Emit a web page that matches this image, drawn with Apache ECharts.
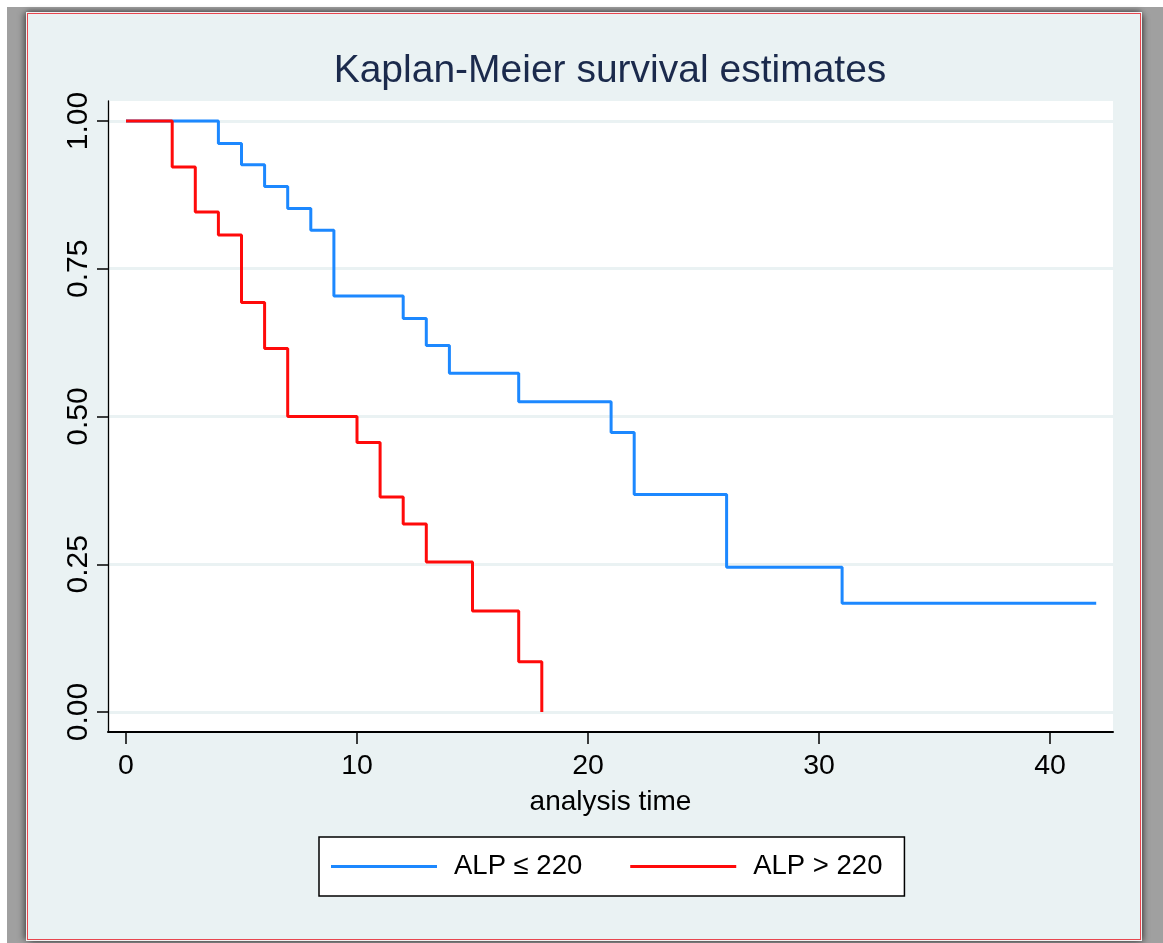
<!DOCTYPE html>
<html>
<head>
<meta charset="utf-8">
<title>Kaplan-Meier survival estimates</title>
<script src="https://cdn.jsdelivr.net/npm/echarts@6/dist/echarts.min.js"></script>
<style>
  html, body { margin: 0; padding: 0; background: #ffffff; }
  #stage { position: relative; width: 1163px; height: 943px; overflow: hidden; }
  #backdrop { position: absolute; left: 7px; top: 7px; width: 1156px; height: 936px; background: #a0a0a0; }
  #panel {
    position: absolute; left: 27px; top: 13px; width: 1114px; height: 927px;
    box-sizing: border-box; background: #eaf2f3; border: 1.5px solid #e8464e;
    box-shadow: 0 0 0 1px #f2f2f2, 3px 2px 6px rgba(0,0,0,0.45), -4px 0 6px rgba(0,0,0,0.35), 0 -3px 5px rgba(0,0,0,0.3);
  }
  #chart { position: absolute; left: 0; top: 0; width: 1163px; height: 943px; }
</style>
</head>
<body>
<div id="stage">
  <div id="backdrop"></div>
  <div id="panel"></div>
  <div id="chart"></div>
</div>
<script>
// Survival step functions: times at which the estimate changes, and the estimate from that time on
const lowTimes  = [0, 4, 5, 6, 7, 8, 9, 12, 13, 14, 17, 21, 22, 26, 31, 42];
const lowSurv   = [1.000, 0.962, 0.926, 0.889, 0.852, 0.815, 0.704, 0.666, 0.620, 0.573, 0.525, 0.473, 0.368, 0.245, 0.184, 0.184];
const highTimes = [0, 2, 3, 4, 5, 6, 7, 10, 11, 12, 13, 15, 17, 18];
const highSurv  = [1.000, 0.922, 0.846, 0.807, 0.693, 0.615, 0.500, 0.456, 0.364, 0.318, 0.254, 0.171, 0.085, 0.000];

const seriesNames = ['ALP \u2264 220', 'ALP > 220'];
const xTicks = [0, 10, 20, 30, 40];
const yTicks = [0, 0.25, 0.5, 0.75, 1];

const FONT = "'Liberation Sans', Arial, Helvetica, sans-serif";

function pairs(times, values) {
  return times.map((t, i) => [t, values[i]]);
}

const chart = echarts.init(document.getElementById('chart'), null, { renderer: 'canvas' });

chart.setOption({
  backgroundColor: 'transparent',
  animation: false,
  title: {
    text: 'Kaplan-Meier survival estimates',
    left: 610,
    top: 52,
    textAlign: 'center',
    padding: 0,
    textStyle: { fontFamily: FONT, fontSize: 39, fontWeight: 'normal', color: '#1b2a4c' }
  },
  grid: {
    left: 108, right: 50, top: 101, bottom: 211,
    show: true, backgroundColor: '#ffffff', borderWidth: 0
  },
  xAxis: {
    type: 'value',
    min: -0.779,
    max: 42.727,
    name: 'analysis time',
    nameLocation: 'middle',
    nameGap: 56,
    nameTextStyle: { fontFamily: FONT, fontSize: 28, color: '#000' },
    axisLine: { show: true, onZero: false, lineStyle: { color: '#000', width: 2 } },
    axisTick: { show: true, customValues: xTicks, length: 12, lineStyle: { color: '#000', width: 1.5 } },
    axisLabel: { customValues: xTicks, fontFamily: FONT, fontSize: 28.5, color: '#000', margin: 20 },
    splitLine: { show: false }
  },
  yAxis: {
    type: 'value',
    min: -0.0338,
    max: 1.0338,
    axisLine: { show: true, onZero: false, lineStyle: { color: '#000', width: 1.3 } },
    axisTick: { show: true, customValues: yTicks, length: 11, lineStyle: { color: '#000', width: 1.5 } },
    axisLabel: {
      customValues: yTicks, rotate: 90, fontFamily: FONT, fontSize: 30, color: '#000', margin: 14,
      formatter: v => Number(v).toFixed(2)
    },
    splitLine: { show: true, lineStyle: { color: '#eaf2f3', width: 3 } }
  },
  legend: {
    left: 319,
    top: 837,
    orient: 'horizontal',
    icon: 'rect',
    itemWidth: 106,
    itemHeight: 3,
    itemGap: 48,
    padding: [15, 22, 15, 12],
    backgroundColor: '#ffffff',
    borderColor: '#000',
    borderWidth: 1.5,
    borderRadius: 0,
    data: seriesNames,
    textStyle: { fontFamily: FONT, fontSize: 27.5, color: '#000', padding: [0, 0, 0, 12], lineHeight: 29 }
  },
  series: [
    {
      name: seriesNames[0],
      type: 'line',
      step: 'end',
      symbol: 'none',
      color: '#1c88ff',
      lineStyle: { width: 3, color: '#1c88ff' },
      emphasis: { disabled: true },
      data: pairs(lowTimes, lowSurv),
      z: 3
    },
    {
      name: seriesNames[1],
      type: 'line',
      step: 'end',
      symbol: 'none',
      color: '#ff0a0a',
      lineStyle: { width: 3, color: '#ff0a0a' },
      emphasis: { disabled: true },
      data: pairs(highTimes, highSurv),
      z: 4
    }
  ]
});
</script>
</body>
</html>
